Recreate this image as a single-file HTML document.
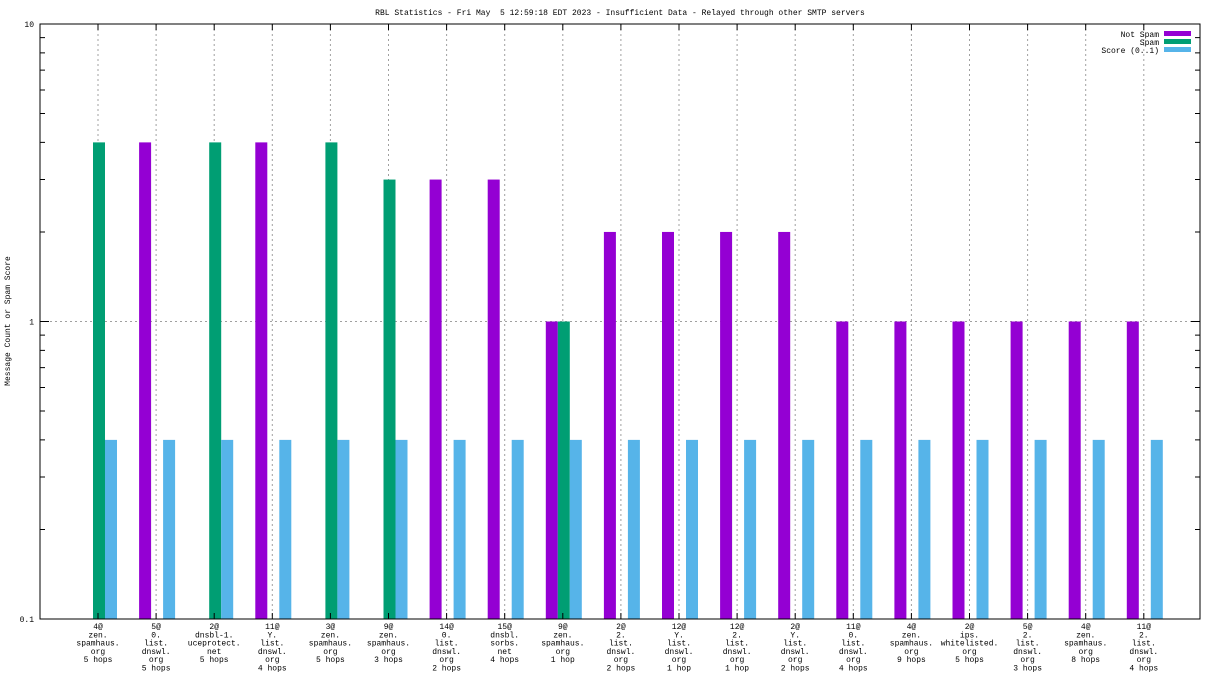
<!DOCTYPE html>
<html><head><meta charset="utf-8"><style>
body{margin:0;background:#fff}
svg text{font-family:"Liberation Mono",monospace;font-size:8px;fill:#000;white-space:pre}
</style></head><body>
<svg id="c" width="1216" height="684" xmlns="http://www.w3.org/2000/svg">
<rect width="1216" height="684" fill="#fff"/>
<text x="620" y="15" text-anchor="middle" xml:space="preserve">RBL Statistics - Fri May  5 12:59:18 EDT 2023 - Insufficient Data - Relayed through other SMTP servers</text>
<text transform="translate(10,321) rotate(-90)" text-anchor="middle">Message Count or Spam Score</text>
<g id="grid"></g><g id="bars"></g><g id="axes"></g>
<g>
<text x="1159" y="37" text-anchor="end">Not Spam</text><rect x="1164" y="31" width="27" height="5" fill="#9400d3"/>
<text x="1159" y="45" text-anchor="end">Spam</text><rect x="1164" y="39" width="27" height="5" fill="#009e73"/>
<text x="1159" y="53" text-anchor="end">Score (0..1)</text><rect x="1164" y="47" width="27" height="5" fill="#56b4e9"/>
</g>
</svg>
<script>
const labels=[["4@","zen.","spamhaus.","org","5 hops"],["5@","0.","list.","dnswl.","org","5 hops"],["2@","dnsbl-1.","uceprotect.","net","5 hops"],["11@","Y.","list.","dnswl.","org","4 hops"],["3@","zen.","spamhaus.","org","5 hops"],["9@","zen.","spamhaus.","org","3 hops"],["14@","0.","list.","dnswl.","org","2 hops"],["15@","dnsbl.","sorbs.","net","4 hops"],["9@","zen.","spamhaus.","org","1 hop"],["2@","2.","list.","dnswl.","org","2 hops"],["12@","Y.","list.","dnswl.","org","1 hop"],["12@","2.","list.","dnswl.","org","1 hop"],["2@","Y.","list.","dnswl.","org","2 hops"],["11@","0.","list.","dnswl.","org","4 hops"],["4@","zen.","spamhaus.","org","9 hops"],["2@","ips.","whitelisted.","org","5 hops"],["5@","2.","list.","dnswl.","org","3 hops"],["4@","zen.","spamhaus.","org","8 hops"],["11@","2.","list.","dnswl.","org","4 hops"]];
const notSpam=[0,4,0,4,0,0,3,3,1,2,2,2,2,1,1,1,1,1,1];
const spam=[4,0,4,0,4,3,0,0,1,0,0,0,0,0,0,0,0,0,0];
const score=[0.4,0.4,0.4,0.4,0.4,0.4,0.4,0.4,0.4,0.4,0.4,0.4,0.4,0.4,0.4,0.4,0.4,0.4,0.4];
const yTicks=[0.1,1,10];
const yTickLabels=["0.1","1","10"];
const L=40,R=1200,T=24,B=619;
const ns="http://www.w3.org/2000/svg";
const y=v=>B-(Math.log10(v)+1)/2*(B-T);
const x=i=>98+i*58.1;
function mk(p,t,a){const e=document.createElementNS(ns,t);for(const k in a)e.setAttribute(k,a[k]);p.appendChild(e);return e;}
const G=document.getElementById('grid'),BA=document.getElementById('bars'),A=document.getElementById('axes');
labels.forEach((lb,i)=>{
 const l=mk(G,'line',{x1:x(i),x2:x(i),y1:T,y2:B,stroke:'#a0a0a0','stroke-dasharray':'2,3'});
 
 const tk=mk(A,'path',{d:`M${x(i)} ${B}v-6M${x(i)} ${T}v6`,stroke:'#000'});
 
 const t=mk(A,'text',{x:x(i),y:629,'text-anchor':'middle'});
 
 lb.forEach((s,j)=>{const ts=mk(t,'tspan',{x:x(i),y:629+j*8.3});ts.textContent=s;});
 [[notSpam,-17,'#9400d3','bar-not-spam'],[spam,-5,'#009e73','bar-spam'],[score,7,'#56b4e9','bar-score']].forEach(([arr,o,c,n])=>{
  const v=arr[i]; if(!(v>0.1))return;
  const r=mk(BA,'rect',{x:x(i)+o,y:y(v),width:12,height:B-y(v),fill:c});
  
 });
});
mk(G,'line',{x1:L,x2:R,y1:y(1),y2:y(1),stroke:'#a0a0a0','stroke-dasharray':'2,3'});
mk(A,'rect',{x:L,y:T,width:R-L,height:B-T,fill:'none',stroke:'#000'});
yTicks.forEach((v,k)=>{
 mk(A,'path',{d:`M${L} ${y(v)}h9M${R} ${y(v)}h-9`,stroke:'#000'});
 const t=mk(A,'text',{x:34,y:y(v)+3,'text-anchor':'end'});t.textContent=yTickLabels[k];
 
 if(v<10)for(let m=2;m<10;m++)mk(A,'path',{d:`M${L} ${y(v*m)}h5M${R} ${y(v*m)}h-5`,stroke:'#000'});
});
</script>
</body></html>
